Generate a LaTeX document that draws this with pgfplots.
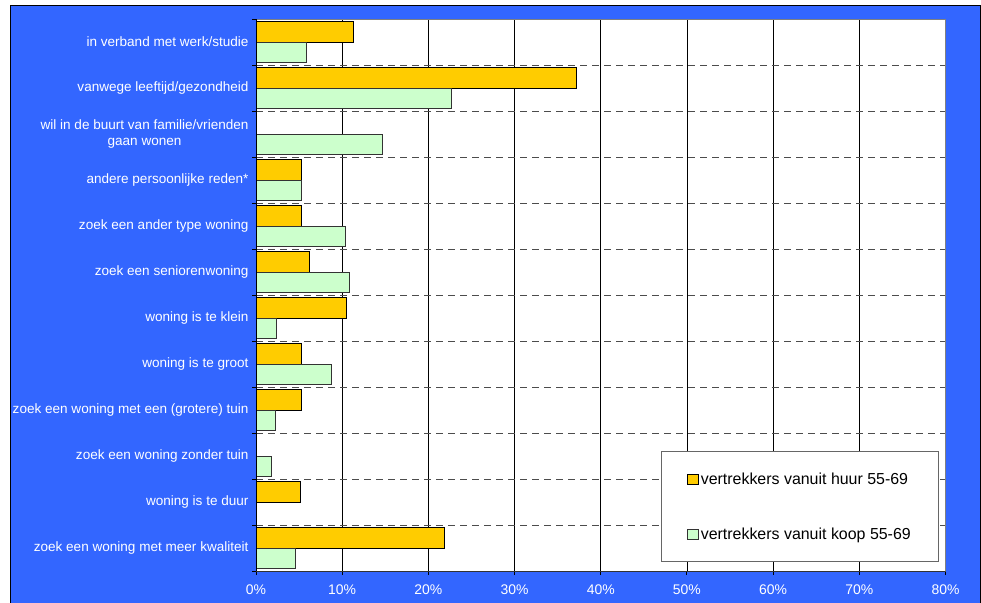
\documentclass[border=0pt]{standalone}
\usepackage{pgfplots}
\pgfplotsset{compat=1.18}
\usepackage{fontspec}
\setmainfont{Liberation Sans}
\definecolor{bgblue}{RGB}{51,102,255}
\definecolor{huur}{RGB}{255,204,0}
\definecolor{koop}{RGB}{204,255,204}
\begin{document}
\begin{tikzpicture}
\useasboundingbox (0,0) rectangle (981bp,603bp);
\fill[white] (0,0) rectangle (981bp,603bp);
\fill[bgblue] (10bp,0bp) rectangle (980bp,597bp);
\draw[black, line width=1bp] (10bp,0bp) -- (10bp,597bp) -- (980bp,597bp) -- (980bp,0bp);
\begin{axis}[
  at={(256bp,32bp)}, anchor=south west,
  scale only axis, width=689.5bp, height=552bp,
  xmin=0, xmax=80, ymin=-0.5, ymax=11.5, y dir=reverse,
  axis background/.style={fill=white},
  axis line style={draw=gray, line width=1bp},
  xtick={0,10,...,80},
  xticklabels={0\%,10\%,20\%,30\%,40\%,50\%,60\%,70\%,80\%},
  xticklabel style={text=white, font=\fontsize{14}{16}\selectfont, yshift=-6bp},
  xtick pos=bottom, ytick pos=left,
  major x tick style={black, line width=1bp},
  major tick length=4bp, minor tick length=4bp, tick align=outside,
  xmajorgrids, major x grid style={black, line width=0.8bp},
  ytick={0,...,11},
  yticklabels={in verband met werk/studie, vanwege leeftijd/gezondheid, {wil in de buurt van familie/vrienden\\gaan wonen}, andere persoonlijke reden*, zoek een ander type woning, zoek een seniorenwoning, woning is te klein, woning is te groot, zoek een woning met een (grotere) tuin, zoek een woning zonder tuin, woning is te duur, zoek een woning met meer kwaliteit},
  yticklabel style={text=white, font=\fontsize{13.6}{17}\selectfont, align=center},
  major y tick style={draw=none},
  minor ytick={-0.5,0.5,...,11.5},
  minor y tick style={black, line width=1bp},
  yminorgrids, minor y grid style={gray!60!black, line width=1bp, dash pattern=on 7bp off 5bp},
  legend cell align=left,
  legend style={at={(0.991,0.0158)}, anchor=south east, draw=gray!80!black, line width=1bp, fill=white, inner xsep=26bp, inner ysep=19bp, row sep=38bp, font=\fontsize{16}{18}\selectfont, text=black},
  legend image code/.code={\draw[#1, line width=0.8bp] (0bp,-5bp) rectangle (11bp,5bp);},
]
\addplot[xbar, bar width=0.445, bar shift=-0.2225, fill=huur, draw=black, line width=0.8bp]
  coordinates {(11.3,0) (37.2,1) (5.3,3) (5.3,4) (6.2,5) (10.5,6) (5.3,7) (5.3,8) (5.2,10) (21.9,11)};
\addplot[xbar, bar width=0.445, bar shift=0.2225, fill=koop, draw=black!80, line width=0.8bp]
  coordinates {(5.9,0) (22.7,1) (14.7,2) (5.3,3) (10.4,4) (10.8,5) (2.4,6) (8.8,7) (2.3,8) (1.8,9) (4.6,11)};
\legend{vertrekkers vanuit huur 55-69, vertrekkers vanuit koop 55-69}
\draw[black, line width=1bp] (axis cs:0,-0.5) -- (axis cs:0,11.5);
\draw[black!80, line width=1bp] (axis cs:0,11.5) -- (axis cs:80,11.5);
\end{axis}
\end{tikzpicture}
\end{document}
